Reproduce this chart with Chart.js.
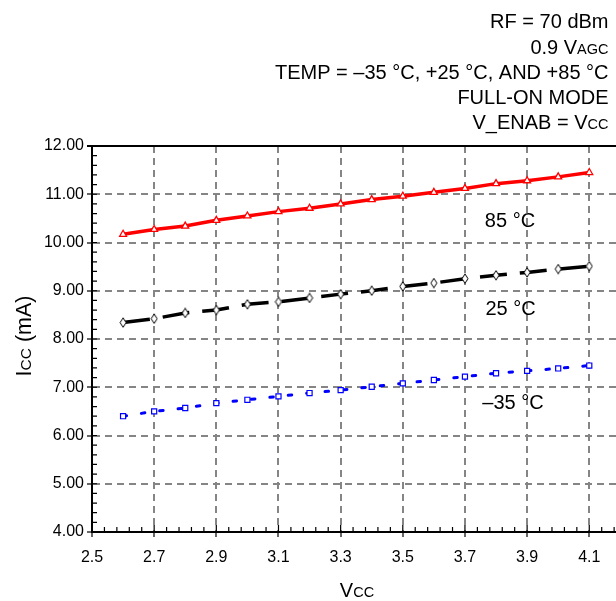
<!DOCTYPE html>
<html><head><meta charset="utf-8">
<script src="https://cdn.jsdelivr.net/npm/chart.js@4/dist/chart.umd.min.js"></script>
<style>html,body{margin:0;padding:0;background:#fff;overflow:hidden}canvas{display:block}</style>
</head><body>
<canvas id="c" width="616" height="601"></canvas>
<script>
// ---- data ----
const vcc = [2.6, 2.7, 2.8, 2.9, 3.0, 3.1, 3.2, 3.3, 3.4, 3.5, 3.6, 3.7, 3.8, 3.9, 4.0, 4.1];
const icc85 = [10.17, 10.27, 10.34, 10.46, 10.55, 10.64, 10.71, 10.80, 10.89, 10.96, 11.04, 11.12, 11.22, 11.28, 11.36, 11.45];
const icc25 = [8.34, 8.42, 8.54, 8.60, 8.72, 8.77, 8.85, 8.93, 9.00, 9.09, 9.16, 9.25, 9.32, 9.38, 9.45, 9.51];
const iccM35 = [6.40, 6.50, 6.57, 6.67, 6.74, 6.81, 6.88, 6.94, 7.01, 7.08, 7.15, 7.22, 7.29, 7.34, 7.39, 7.45];
const xTickValues = [2.5, 2.7, 2.9, 3.1, 3.3, 3.5, 3.7, 3.9, 4.1];
const yTickValues = [4, 5, 6, 7, 8, 9, 10, 11, 12];
const seriesNames = ['85 °C', '25 °C', '–35 °C'];
const seriesNameX = [3.764, 3.766, 3.756];
const seriesNameY = [10.32, 8.50, 6.55];
const headerLines = [
  [['RF = 70 dBm', 'L']],
  [['0.9 V', 'L'], ['AGC', 'S']],
  [['TEMP = –35 °C, +25 °C, AND +85 °C', 'L']],
  [['FULL-ON MODE', 'L']],
  [['V_ENAB = V', 'L'], ['CC', 'S']]
];
const xTitle = [['V', 'L'], ['CC', 'S']];
const yTitle = [['I', 'YL'], ['CC', 'YS'], [' (mA)', 'YL']];

// ---- styling ----
const FONT = '"Liberation Sans", Arial, Helvetica, sans-serif';
const SIZES = {L: 20, S: 14.5, YL: 21.5, YS: 15.5};
const GRID = '#858585';

function drawRich(ctx, segs, x, y, align) {
  const widths = segs.map(([t, s]) => { ctx.font = SIZES[s] + 'px ' + FONT; return ctx.measureText(t).width; });
  const total = widths.reduce((a, b) => a + b, 0);
  let start = align === 'right' ? x - total : align === 'center' ? x - total / 2 : x;
  ctx.textAlign = 'left';
  ctx.textBaseline = 'alphabetic';
  segs.forEach(([t, s], i) => { ctx.font = SIZES[s] + 'px ' + FONT; ctx.fillText(t, start, y); start += widths[i]; });
}

function diamondImage() {
  const c = document.createElement('canvas');
  c.width = 8; c.height = 11;
  const g = c.getContext('2d');
  g.beginPath();
  g.moveTo(4, 0.8); g.lineTo(7, 5.5); g.lineTo(4, 10.2); g.lineTo(1, 5.5); g.closePath();
  g.fillStyle = '#fff'; g.fill();
  g.strokeStyle = '#000'; g.lineWidth = 1; g.stroke();
  return c;
}

const overlay = {
  id: 'overlay',
  afterDraw(chart) {
    const ctx = chart.ctx;
    const {left, right, top, bottom} = chart.chartArea;
    const xs = chart.scales.x, ys = chart.scales.y;
    ctx.save();
    // top border
    ctx.strokeStyle = '#000'; ctx.lineWidth = 2;
    ctx.beginPath(); ctx.moveTo(left - 5, top); ctx.lineTo(right, top); ctx.stroke();
    // minor + inner ticks
    ctx.lineWidth = 1.2;
    ctx.beginPath();
    for (let k = 0; k <= 42; k++) {
      const v = 2.5 + k * 0.04;
      const p = xs.getPixelForValue(v);
      if (p > right) break;
      const major = k % 5 === 0;
      ctx.moveTo(p, bottom); ctx.lineTo(p, bottom - (major ? 7 : 5));
    }
    for (let k = 0; k <= 40; k++) {
      const v = 4 + k * 0.2;
      const p = ys.getPixelForValue(v);
      ctx.moveTo(left, p); ctx.lineTo(left + 5, p);
    }
    ctx.stroke();
    // text
    ctx.fillStyle = '#000';
    const base = [28.3, 53.5, 79, 104.2, 129.4];
    headerLines.forEach((segs, i) => drawRich(ctx, segs, 608.5, base[i], 'right'));
    seriesNames.forEach((n, i) => drawRich(ctx, [[n, 'L']], xs.getPixelForValue(seriesNameX[i]), ys.getPixelForValue(seriesNameY[i]), 'left'));
    drawRich(ctx, xTitle, (left + right) / 2 + 3, 596.5, 'center');
    ctx.save();
    ctx.translate(31, (top + bottom) / 2 - 3);
    ctx.rotate(-Math.PI / 2);
    drawRich(ctx, yTitle, 0, 0, 'center');
    ctx.restore();
    ctx.restore();
  }
};

const pts = arr => vcc.map((x, i) => ({x, y: arr[i]}));

new Chart(document.getElementById('c'), {
  type: 'line',
  data: {
    datasets: [
      {label: seriesNames[0], data: pts(icc85), borderColor: '#ff0000', borderWidth: 3.5, tension: 0,
       pointStyle: 'triangle', pointRadius: 4, pointBorderWidth: 1.3, pointBorderColor: '#ff0000', pointBackgroundColor: '#fff'},
      {label: seriesNames[1], data: pts(icc25), borderColor: '#000', borderWidth: 3.5, tension: 0, borderDash: [27, 13],
       pointStyle: diamondImage(), pointRadius: 5},
      {label: seriesNames[2], data: pts(iccM35), borderColor: '#0000ff', borderWidth: 3, tension: 0, borderDash: [3.5, 15], borderCapStyle: 'round',
       pointStyle: 'rect', pointRadius: 3.6, pointBorderWidth: 1.2, pointBorderColor: '#0000ff', pointBackgroundColor: '#fff'}
    ]
  },
  options: {
    responsive: false,
    animation: false,
    events: [],
    layout: {autoPadding: false, padding: {top: 146, right: 0, left: 0, bottom: 0}},
    plugins: {legend: {display: false}, tooltip: {enabled: false}},
    scales: {
      x: {
        type: 'linear', min: 2.5, max: 4.186,
        afterBuildTicks: s => { s.ticks = xTickValues.map(v => ({value: v})); },
        afterFit: s => { s.height = 69; s.paddingRight = 0; s.paddingLeft = 0; },
        ticks: {color: '#000', font: {family: FONT, size: 16}, padding: 11, maxRotation: 0, autoSkip: false,
                callback: v => Number(v).toFixed(1)},
        grid: {color: GRID, lineWidth: 2, borderDash: [7, 5], tickColor: '#000', tickWidth: 1.2, tickLength: 5, tickBorderDash: []},
        border: {color: '#000', width: 2, dash: [7, 5]}
      },
      y: {
        type: 'linear', min: 4, max: 12,
        afterBuildTicks: s => { s.ticks = yTickValues.map(v => ({value: v})); },
        afterFit: s => { s.width = 92; s.paddingTop = 0; s.paddingBottom = 0; },
        ticks: {color: '#000', font: {family: FONT, size: 16}, padding: 3, autoSkip: false,
                callback: v => Number(v).toFixed(2)},
        grid: {color: GRID, lineWidth: 2, borderDash: [7, 5], tickColor: '#000', tickWidth: 1.2, tickLength: 5, tickBorderDash: []},
        border: {color: '#000', width: 2, dash: [7, 5]}
      }
    }
  },
  plugins: [overlay]
});
</script>
</body></html>
